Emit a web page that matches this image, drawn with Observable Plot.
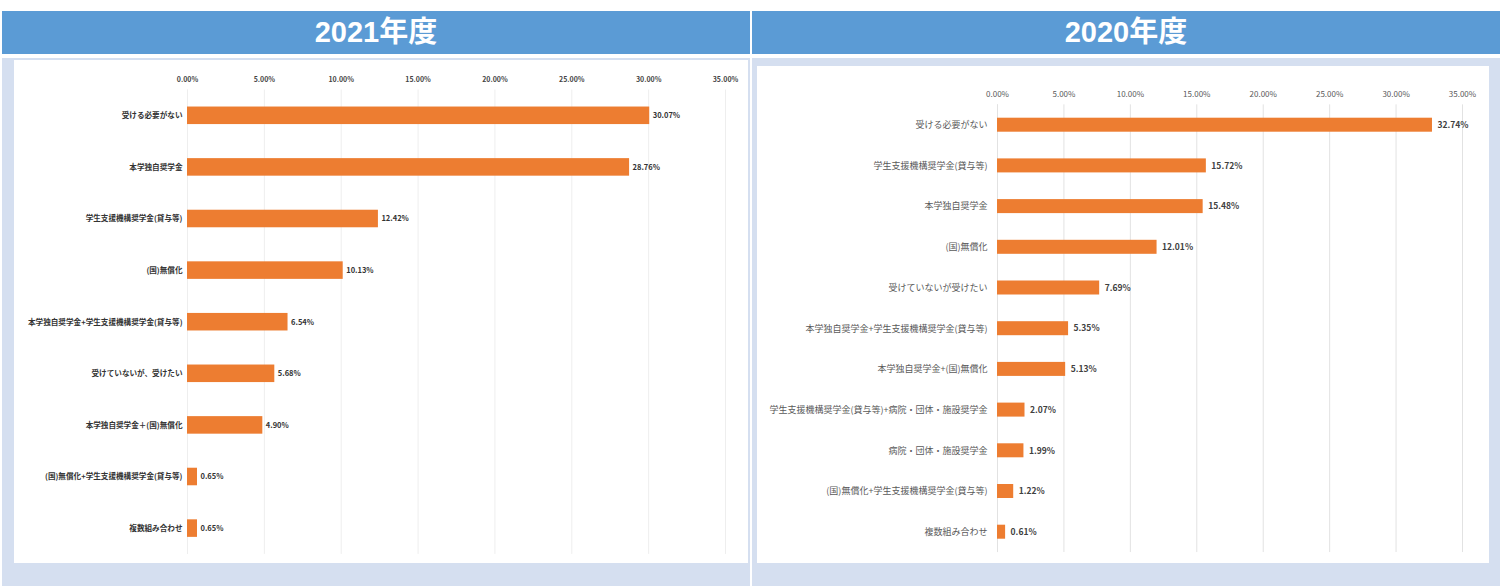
<!DOCTYPE html>
<html>
<head>
<meta charset="utf-8">
<script src="https://cdn.jsdelivr.net/npm/d3@7"></script>
<script src="https://cdn.jsdelivr.net/npm/@observablehq/plot@0.6"></script>
<style>
  html, body { margin: 0; padding: 0; background: #ffffff; }
  body { width: 1506px; height: 586px; position: relative; overflow: hidden; font-family: "Noto Sans CJK JP", "Noto Sans", sans-serif; }
  .hdr { position: absolute; top: 11px; height: 43px; background: #5B9BD5; color: #fff; font-weight: bold; font-size: 29px; line-height: 43px; text-align: center; font-family: "Liberation Sans", "Noto Sans CJK JP", sans-serif; }
  .bg { position: absolute; top: 58px; height: 528px; background: #D5DFF0; }
  .panel { position: absolute; background: #fff; }
</style>
</head>
<body>
<div class="hdr" style="left:2px;width:748px;">2021年度</div>
<div class="hdr" style="left:752px;width:748px;">2020年度</div>
<div class="bg" style="left:2px;width:748px;"></div>
<div class="bg" style="left:752px;width:748px;"></div>
<div class="panel" id="p2021" style="left:14px;top:60px;width:734px;height:503px;"></div>
<div class="panel" id="p2020" style="left:757px;top:66px;width:732px;height:497px;"></div>
<script>
const ticks = [0, 5, 10, 15, 20, 25, 30, 35];

const cats2021 = ["受ける必要がない", "本学独自奨学金", "学生支援機構奨学金(貸与等)", "(国)無償化",
  "本学独自奨学金+学生支援機構奨学金(貸与等)", "受けていないが、受けたい", "本学独自奨学金＋(国)無償化",
  "(国)無償化+学生支援機構奨学金(貸与等)", "複数組み合わせ"];
const vals2021 = [30.07, 28.76, 12.42, 10.13, 6.54, 5.68, 4.90, 0.65, 0.65];

const cats2020 = ["受ける必要がない", "学生支援機構奨学金(貸与等)", "本学独自奨学金", "(国)無償化",
  "受けていないが受けたい", "本学独自奨学金+学生支援機構奨学金(貸与等)", "本学独自奨学金+(国)無償化",
  "学生支援機構奨学金(貸与等)+病院・団体・施設奨学金", "病院・団体・施設奨学金",
  "(国)無償化+学生支援機構奨学金(貸与等)", "複数組み合わせ"];
const vals2020 = [32.74, 15.72, 15.48, 12.01, 7.69, 5.35, 5.13, 2.07, 1.99, 1.22, 0.61];

const fmt = d => d.toFixed(2) + "%";

function chart(cats, vals, o) {
  const data = cats.map((c, i) => ({cat: c, v: vals[i]}));
  return Plot.plot({
    width: o.width, height: o.height,
    marginLeft: o.ml, marginRight: o.mr, marginTop: o.mt, marginBottom: o.mb,
    style: {background: "transparent", fontFamily: "'Noto Sans CJK JP', sans-serif"},
    x: {domain: [0, 35], round: false, label: null},
    y: {domain: cats, paddingInner: o.pad, paddingOuter: o.pad / 2, round: false, label: null},
    marks: [
      Plot.gridX(ticks, {stroke: o.grid, strokeOpacity: 1}),
      Plot.ruleX([0], {stroke: o.grid, strokeOpacity: 1}),
      Plot.barX(data, {x: "v", y: "cat", fill: "#ED7D31"}),
      Plot.text(data, {x: "v", y: "cat", text: d => fmt(d.v), textAnchor: "start", dx: o.vdx,
        fontSize: o.vfs, fontWeight: "bold", fill: o.vcol}),
      Plot.axisX({anchor: "top", ticks: ticks, tickFormat: fmt, tickSize: 0, tickPadding: o.tp,
        fontSize: o.tfs, fill: o.tcol, fontWeight: o.tfw, label: null}),
      Plot.axisY({tickSize: 0, tickPadding: o.lp, fontSize: o.lfs, fill: o.lcol, fontWeight: o.lfw, label: null})
    ]
  });
}

document.getElementById("p2021").append(chart(cats2021, vals2021, {
  width: 734, height: 503, ml: 173, mr: 23, mt: 29.5, mb: 9.1, pad: 0.66,
  grid: "#eeeeee", vdx: 3, vfs: 7.5, vcol: "#333", tp: 8, tfs: 7, tcol: "#444", tfw: "bold",
  lp: 5, lfs: 7.6, lcol: "#333", lfw: "bold"
}));

document.getElementById("p2020").append(chart(cats2020, vals2020, {
  width: 732, height: 497, ml: 240, mr: 27, mt: 38.35, mb: 10.95, pad: 0.656,
  grid: "#e2e2e2", vdx: 5, vfs: 8.5, vcol: "#404040", tp: 8, tfs: 8, tcol: "#595959", tfw: "normal",
  lp: 10, lfs: 9, lcol: "#595959", lfw: "normal"
}));
</script>
</body>
</html>
